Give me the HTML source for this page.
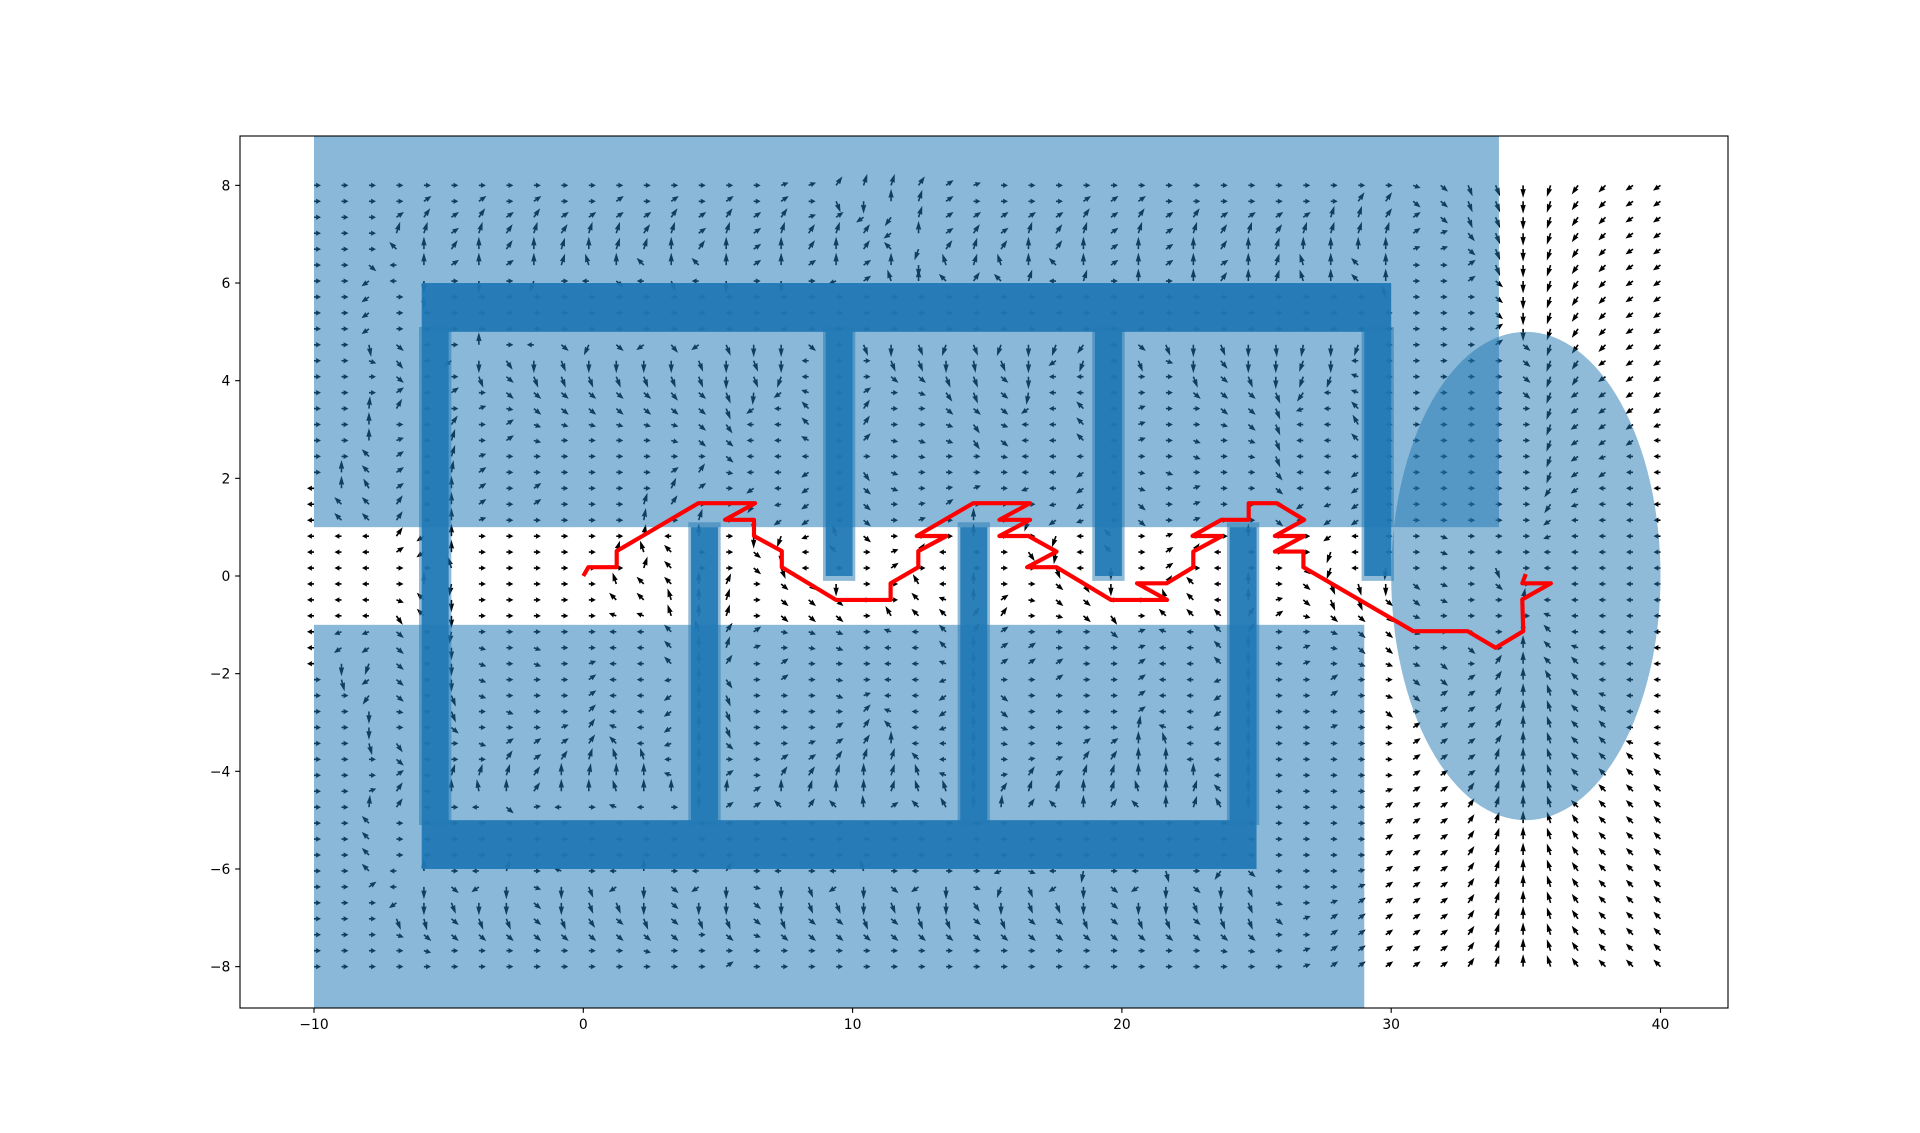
<!DOCTYPE html>
<html lang="en">
<head>
<meta charset="utf-8">
<title>Potential field path chart</title>
<style>
html,body{margin:0;padding:0;background:#fff}
svg{display:block}
text{font-family:"DejaVu Sans","Liberation Sans",sans-serif;font-size:13.89px;fill:#000}
</style>
</head>
<body>
<svg id="chart" xmlns="http://www.w3.org/2000/svg" width="1920" height="1133" viewBox="0 0 1920 1133">
<defs><clipPath id="axes-clip"><rect x="240" y="136" width="1488" height="872"/></clipPath></defs>
</svg>
<script>
const xTicks = [-10, 0, 10, 20, 30, 40];
const yTicks = [-8, -6, -4, -2, 0, 2, 4, 6, 8];
const fieldXStart = -10;
const fieldXEnd = 40;
const fieldYTop = 8;
const fieldYBottom = -8;
const pathX = [0,0.19,1.24,1.24,4.27,6.38,5.26,6.34,6.34,7.37,7.37,9.38,11.41,11.41,12.44,12.44,13.49,12.38,14.48,16.59,15.45,16.59,15.45,16.53,17.57,16.48,17.57,19.6,21.68,20.56,21.66,22.65,22.65,23.72,22.62,23.69,24.71,24.71,25.75,26.77,25.68,26.77,25.68,26.74,26.74,30.82,32.84,33.88,34.9,34.87,35.93,34.87,35.0];
const pathY = [0,0.18,0.18,0.51,1.49,1.49,1.15,1.15,0.82,0.51,0.18,-0.49,-0.49,-0.15,0.18,0.51,0.82,0.82,1.49,1.49,1.15,1.15,0.82,0.82,0.5,0.18,0.18,-0.49,-0.49,-0.15,-0.15,0.18,0.5,0.82,0.82,1.15,1.15,1.49,1.49,1.15,0.82,0.82,0.5,0.5,0.18,-1.13,-1.13,-1.47,-1.13,-0.48,-0.15,-0.15,0.04];
const regionX0 = [-10, -10];
const regionX1 = [34, 29];
const regionY0 = [1, -9.2];
const regionY1 = [9.2, -1];
const ellipseCenter = [35, 0];
const ellipseRadius = [5, 5];
const wallX0 = [-6, 4, 14, 24, 9, 19, 29];
const wallX1 = [-5, 5, 15, 25, 10, 20, 30];
const wallY0 = [-5, -5, -5, -5, 0, 0, 0];
const wallY1 = [5, 1, 1, 1, 5, 5, 5];
const wallPadding = 0.1;
const barX0 = [-6, -6];
const barX1 = [30, 25];
const barY0 = [5, -6];
const barY1 = [6, -5];
const arrowAngleRows = [
[0,0,0,0,0,0,0,0,0,0,0,0,0,0,0,0,0,20,20,55,72,72,55,35,20,0,0,0,0,0,0,0,0,0,0,0,0,0,0,0,-20,-40,-68,-68,-90,-108,-125,-135,-145,-145],
[0,0,0,0,35,0,35,0,35,0,0,35,0,35,0,35,0,35,0,-68,-90,90,72,35,0,0,0,0,35,35,35,0,0,0,0,0,0,0,55,55,-40,-40,-68,-68,-90,-108,-125,-135,-145,-145],
[0,0,0,35,55,35,55,35,55,35,35,35,35,55,35,55,35,55,20,35,-145,-125,72,35,35,35,35,35,55,35,55,35,55,35,35,35,35,72,72,55,35,-40,-68,-68,-90,-108,-125,-135,-145,-145],
[0,0,0,72,72,35,72,55,72,55,72,72,55,72,35,72,35,72,55,72,55,-145,90,35,55,35,72,55,72,35,72,35,72,55,72,55,72,72,72,72,35,20,-50,-68,-90,-108,-125,-135,-145,-145],
[0,0,0,135,90,55,90,55,90,72,90,72,72,90,55,90,35,90,55,90,55,135,-110,55,72,55,90,55,90,35,90,35,90,55,90,72,90,90,90,90,20,20,-40,-68,-90,-108,-125,-135,-145,-145],
[0,0,-40,180,90,35,90,35,90,72,108,90,135,90,135,90,35,90,35,90,35,90,-90,108,72,108,90,135,90,35,90,35,90,35,90,72,108,90,135,90,0,0,35,-68,-90,-108,-125,-135,-145,-145],
[0,0,-145,180,-90,0,-90,0,-110,0,180,-40,180,-68,180,-90,0,-90,0,-160,35,108,90,135,55,135,72,180,72,0,90,0,90,55,90,72,108,90,135,90,0,0,35,-40,-90,-108,-125,-135,-145,-145],
[0,0,-145,0,-90,0,0,0,0,0,0,0,0,0,0,0,0,0,0,0,0,0,0,0,0,0,0,0,0,0,0,0,0,0,0,0,0,0,0,108,0,0,0,-40,-90,-108,-125,-135,-145,-145],
[0,0,-145,0,0,0,0,0,0,0,0,0,0,0,0,0,0,0,0,0,0,0,0,0,0,0,0,0,0,0,0,0,0,0,0,0,0,0,0,0,0,0,0,-40,-90,-108,-125,-135,-145,-145],
[0,0,-145,0,0,0,0,0,0,0,0,0,0,0,0,0,0,0,0,0,0,0,0,0,0,0,0,0,0,0,0,0,0,0,0,0,0,0,0,0,0,0,0,35,-90,-108,-125,-135,-145,-145],
[0,0,-80,-40,0,0,90,0,180,-40,-115,-40,-145,-50,-145,-68,-90,-90,-40,0,-68,-90,-68,-110,-68,-110,-90,-110,-125,0,-40,-68,-90,-68,-90,-85,-100,-90,-110,0,0,0,0,35,-40,-108,-125,-135,-145,-145],
[0,0,-20,-50,0,-145,-90,-55,-90,-68,-90,-90,-90,-90,-68,-90,-68,-90,180,0,0,-68,-68,-90,-80,-68,-90,-145,-110,0,-68,-20,-90,-50,-90,-90,-110,-90,180,0,0,0,0,0,-40,-110,-125,-145,-145,-145],
[0,0,0,-40,0,0,-68,-40,-68,-68,-68,-68,-68,-68,-68,-90,-68,-110,180,0,0,-40,-40,-68,-68,-40,-90,180,180,0,0,0,-68,-40,-68,-90,-110,-110,160,0,0,0,0,0,-40,-110,-125,-145,-145,-145],
[0,0,0,35,0,35,0,-40,-40,-40,-40,-40,-40,-50,-40,-68,-95,-145,160,0,35,0,-20,-55,-68,-40,-100,180,180,0,0,0,-40,-40,-40,-68,-125,180,160,0,0,0,0,0,-40,-110,-145,-145,-145,-145],
[0,0,85,60,0,0,20,-10,-40,-40,-40,-40,-40,-40,-40,-68,-145,180,135,0,55,0,0,-40,-40,-40,-145,180,135,0,20,0,0,-40,-40,-68,-160,180,135,0,0,0,0,0,0,-110,-145,-145,-145,-145],
[0,0,90,0,0,55,0,35,-20,-15,-15,-15,-15,-15,-40,-55,180,180,135,0,55,0,0,-20,-55,-20,180,180,135,0,20,0,0,-15,-40,-68,180,180,120,0,0,0,0,0,0,-110,-145,-145,-145,-160],
[0,0,90,20,0,72,0,35,-15,0,0,0,0,-15,-40,-40,180,180,150,0,45,-10,-20,-20,-55,-40,180,180,135,0,20,0,-20,0,-20,-68,180,180,135,0,0,0,0,0,0,-110,-145,-145,-145,180],
[0,0,135,35,0,72,20,0,0,0,0,0,0,0,0,-40,180,180,180,0,0,0,-10,0,0,-10,180,180,180,0,0,0,-20,0,-10,-68,180,180,180,0,0,0,0,0,0,-110,-145,-160,180,180],
[0,90,135,35,0,80,35,0,0,0,0,0,0,35,55,-10,180,180,-145,0,-55,-20,0,0,0,0,180,180,-145,0,-10,-20,0,0,0,-50,180,180,-145,0,0,0,0,0,0,-110,-145,-145,180,180],
[180,90,120,35,0,90,35,0,35,0,0,0,0,65,35,0,-145,180,-145,0,-40,-20,0,10,20,0,-160,180,-145,0,-20,0,20,0,0,-40,180,180,-145,0,0,0,0,0,0,-125,-145,180,180,180],
[180,135,135,55,0,90,35,0,35,0,0,0,72,55,0,0,-125,-170,-145,0,-40,0,10,35,0,0,0,-170,-145,0,-40,0,20,0,0,0,-145,-160,-145,0,0,0,0,0,0,-125,-160,180,180,180],
[180,135,135,55,0,90,20,0,0,0,0,0,80,0,72,0,-90,-145,-145,0,-40,0,20,0,90,0,-110,-145,-160,0,-40,0,20,0,0,-40,180,-145,-145,0,0,0,0,0,0,-145,180,180,180,180],
[180,180,180,55,-145,90,0,0,0,0,0,0,80,180,90,0,-90,-110,-160,108,-40,0,0,0,90,0,0,-110,180,135,0,20,0,0,90,0,0,-145,180,0,0,-20,0,0,0,-160,180,180,180,180],
[180,180,180,35,-145,90,0,0,0,0,0,72,108,135,0,0,-40,-90,180,135,0,20,55,180,0,0,-55,-100,180,135,0,35,55,180,0,0,0,-110,180,0,0,-20,0,0,0,180,180,180,180,180],
[180,180,180,0,0,108,0,0,0,0,0,0,72,135,0,0,-40,-68,180,0,0,35,0,180,0,0,0,-68,180,-90,0,35,0,180,0,0,-40,-110,180,-95,0,0,0,-68,0,180,180,180,180,180],
[180,180,180,0,90,-100,0,0,0,0,0,108,135,135,90,65,0,-40,-40,-90,0,0,120,180,90,0,0,-40,-55,-90,0,55,135,180,90,0,-40,-68,-75,-90,-40,-20,0,-40,0,180,180,180,180,180],
[180,180,180,-20,135,-90,0,0,0,0,0,135,135,108,90,72,0,-40,-40,-40,0,0,135,160,90,35,-10,-40,-40,0,0,108,135,180,90,15,-40,-68,-68,-40,-40,-20,0,0,80,180,180,180,180,180],
[180,180,180,-55,135,-90,0,0,0,0,0,160,160,108,90,72,0,-40,-40,-40,0,120,135,135,55,55,0,-15,-40,-55,0,135,135,135,55,35,-15,-40,-40,-40,-20,0,0,0,0,160,180,180,180,180],
[180,-160,-160,-40,0,-100,0,0,0,0,0,180,180,135,108,55,35,-10,-20,-20,0,160,180,135,55,35,0,0,0,-40,20,160,180,135,55,0,0,-20,-40,-40,-20,0,-20,0,90,135,180,180,180,180],
[180,-145,-145,-40,0,-90,-15,0,-20,0,0,180,180,135,90,72,20,0,-10,-20,0,180,180,135,90,35,35,0,0,0,20,180,180,135,90,0,20,-10,-40,-40,0,0,-40,0,90,135,160,180,180,180],
[180,-90,-110,-40,0,-90,-20,0,-20,0,20,180,180,135,90,55,0,35,0,0,0,180,180,160,90,35,35,35,0,0,35,180,180,135,90,0,20,0,-20,-20,-20,-40,0,55,90,135,135,180,180,180],
[0,-75,-145,-40,0,-90,-20,0,0,0,35,180,180,-170,90,-55,0,35,0,-10,0,180,180,-160,90,0,0,35,0,0,35,180,180,-160,90,0,0,35,0,0,-40,-40,35,55,90,120,135,180,180,180],
[0,0,-125,-40,0,-68,-20,0,0,0,35,180,180,-145,90,-68,0,0,0,-20,20,180,180,-145,90,-40,0,0,0,0,35,180,180,-145,90,0,0,35,0,-20,-40,35,35,55,90,108,135,160,180,180],
[0,0,-90,-10,0,-68,0,-20,0,0,45,180,180,-145,90,-68,0,0,0,0,45,160,180,-145,90,-40,0,0,0,0,35,180,180,-145,90,0,0,0,0,-40,0,35,35,55,90,108,135,135,180,180],
[0,0,-90,0,0,-40,0,0,0,20,55,160,180,-145,90,-68,0,0,0,35,55,135,180,-160,90,-20,0,0,0,0,80,160,180,-160,90,0,0,20,0,0,35,35,35,55,90,108,135,135,180,180],
[0,0,-75,-55,0,0,-20,35,35,35,55,135,180,-160,90,-40,0,0,20,35,55,90,180,180,90,-10,0,0,35,35,90,108,180,180,90,0,0,0,0,0,35,35,35,55,90,108,135,135,160,180],
[0,0,0,-40,0,0,0,55,35,55,72,108,108,180,90,0,0,35,35,55,72,72,135,180,90,0,10,20,55,55,90,90,180,180,90,0,0,0,0,0,35,35,35,72,90,108,135,135,135,135],
[0,0,0,35,0,72,72,72,55,90,80,90,90,160,90,35,0,55,55,72,90,72,108,160,90,10,55,35,72,72,90,90,90,180,90,0,0,0,0,0,35,35,35,72,90,108,135,135,135,135],
[0,0,20,55,0,90,100,90,55,90,90,108,90,90,90,85,35,90,72,90,90,72,108,108,90,55,72,72,90,72,108,90,72,135,90,0,0,0,0,20,35,35,55,72,90,108,135,135,135,135],
[0,0,85,55,0,0,180,-40,10,180,0,160,180,0,90,35,35,135,55,135,95,35,135,120,90,85,55,135,90,55,135,90,72,120,90,0,0,0,0,35,35,35,55,72,90,108,135,135,135,135],
[0,0,135,0,0,0,0,0,0,0,0,0,0,0,0,0,0,0,0,0,0,0,0,0,0,0,0,0,0,0,0,0,0,0,0,0,0,0,0,35,35,35,55,72,90,108,125,135,135,135],
[0,0,135,0,0,0,0,0,0,0,0,0,0,0,0,0,0,0,0,0,0,0,0,0,0,0,0,0,0,0,0,0,0,0,0,0,0,0,0,35,35,35,55,72,90,108,125,135,135,135],
[0,0,135,0,0,0,0,0,0,0,0,0,0,0,0,0,0,0,0,0,0,0,0,0,0,0,0,0,0,0,0,0,0,0,0,0,0,0,0,35,35,35,55,72,90,108,125,135,135,135],
[0,0,135,180,90,0,180,72,0,160,0,180,90,0,180,55,0,180,0,180,108,0,180,0,0,-160,-20,180,-100,0,180,-75,0,-125,-40,0,0,0,10,35,35,35,55,72,90,108,125,135,135,135],
[0,0,35,180,-90,-40,-145,-90,-20,-90,-68,-145,-90,-40,-145,-90,-15,-90,-68,-145,-90,-40,-145,-90,-20,-110,-68,-145,-90,-40,-145,-90,-40,-90,-68,0,0,0,20,35,35,35,55,72,90,108,125,135,135,135],
[0,0,0,-145,-90,-68,-90,-90,-40,-90,-68,-68,-90,-40,-90,-90,-40,-90,-68,-68,-90,-68,-90,-90,-55,-90,-68,-68,-90,-40,-90,-90,-68,-90,-68,-15,0,20,35,35,35,35,55,72,90,108,125,135,135,135],
[0,0,0,-68,-75,-40,-68,-68,-40,-68,-55,-40,-68,-40,-68,-68,-40,-68,-40,-40,-68,-40,-68,-68,-40,-68,-40,-40,-68,-40,-68,-68,-40,-68,-68,-40,20,35,35,35,35,35,55,72,90,108,125,135,135,135],
[0,0,0,-20,-40,-40,-40,-40,-40,-40,-40,-40,-40,-40,0,-40,-20,-40,-40,-40,-40,-40,-40,-40,-40,-40,-40,-40,-40,-40,-40,-40,-40,-40,-40,0,0,35,35,35,35,35,55,72,90,108,125,135,135,135],
[0,0,0,0,-15,0,0,0,0,0,0,0,-15,0,0,0,0,0,0,0,0,0,0,0,0,0,0,0,0,0,0,0,0,-10,-10,0,20,35,35,35,35,35,55,72,90,108,125,135,135,135],
[0,0,0,0,0,0,0,0,0,0,0,0,0,0,0,35,0,0,0,0,0,0,0,0,0,0,0,0,0,0,0,0,0,0,0,0,20,35,35,35,35,35,55,72,90,108,125,135,135,135]
];

const SVG_NS = 'http://www.w3.org/2000/svg';
const chart = document.getElementById('chart');
const axLeft = 240, axRight = 1728, axTop = 136, axBottom = 1008;
function xPos(v) { return 583.3 + v * 26.93; }
function yPos(v) { return 576 - v * 48.83; }
function make(tag, attrs, parent) {
  const el = document.createElementNS(SVG_NS, tag);
  for (const k in attrs) el.setAttribute(k, attrs[k]);
  parent.appendChild(el);
  return el;
}
function dataRect(x0, x1, y0, y1, alpha, parent) {
  return make('rect', {
    x: xPos(x0), y: yPos(y1),
    width: xPos(x1) - xPos(x0), height: yPos(y0) - yPos(y1),
    fill: '#1f77b4', 'fill-opacity': alpha
  }, parent);
}

const plot = make('g', {'clip-path': 'url(#axes-clip)'}, chart);



const field = make('g', {fill: '#000'}, plot);


const rowCount = arrowAngleRows.length;
arrowAngleRows.forEach(function (row, j) {
  const yVal = fieldYTop + (fieldYBottom - fieldYTop) * j / (rowCount - 1);
  row.forEach(function (deg, i) {
    const xVal = fieldXStart + (fieldXEnd - fieldXStart) * i / (row.length - 1);
    const rad = deg * Math.PI / 180;
    const len = Math.hypot(7 * Math.cos(rad), 12.5 * Math.sin(rad));
    const p = make('polygon', {
      points: '0,-0.8 ' + (0.32 * len) + ',-0.8 ' + (0.28 * len) + ',-2.7 ' + len + ',0 ' + (0.28 * len) + ',2.7 ' + (0.32 * len) + ',0.8 0,0.8',
      transform: 'translate(' + xPos(xVal).toFixed(2) + ' ' + yPos(yVal).toFixed(2) + ') rotate(' + (-deg) + ')'
    }, field);
    
    
  });
});

const patches = make('g', {}, plot);


regionX0.forEach(function (x0, i) {
  const r = dataRect(x0, regionX1[i], regionY0[i], regionY1[i], 0.52, patches);
  
  
});
const ell = make('ellipse', {
  cx: xPos(ellipseCenter[0]), cy: yPos(ellipseCenter[1]),
  rx: ellipseRadius[0] * 26.93, ry: ellipseRadius[1] * 48.83,
  fill: '#1f77b4', 'fill-opacity': 0.5
}, patches);


wallX0.forEach(function (x0, i) {
  const halo = dataRect(x0 - wallPadding, wallX1[i] + wallPadding, wallY0[i] - wallPadding, wallY1[i] + wallPadding, 0.5, patches);
  
  
  const core = dataRect(x0, wallX1[i], wallY0[i], wallY1[i], 0.88, patches);
  
  
});
barX0.forEach(function (x0, i) {
  const b = dataRect(x0, barX1[i], barY0[i], barY1[i], 0.93, patches);
  
  
});

const route = make('polyline', {
  points: pathX.map(function (x, i) { return xPos(x).toFixed(1) + ',' + yPos(pathY[i]).toFixed(1); }).join(' '),
  fill: 'none', stroke: '#ff0000', 'stroke-width': 4.17, 'stroke-linejoin': 'round', 'stroke-linecap': 'butt'
}, plot);



const frame = make('rect', {x: axLeft, y: axTop, width: axRight - axLeft, height: axBottom - axTop, fill: 'none', stroke: '#000', 'stroke-width': 1.11}, chart);



const xAxis = make('g', {}, chart);


xTicks.forEach(function (v) {
  const x = xPos(v);
  const t = make('line', {x1: x, x2: x, y1: axBottom, y2: axBottom + 4.86, stroke: '#000', 'stroke-width': 1.11}, xAxis);
  
  
  const l = make('text', {x: x, y: 1029, 'text-anchor': 'middle'}, xAxis);
  l.textContent = String(v).replace('-', '\u2212');
  
  
});

const yAxis = make('g', {}, chart);


yTicks.forEach(function (v) {
  const y = yPos(v);
  const t = make('line', {x1: axLeft - 4.86, x2: axLeft, y1: y, y2: y, stroke: '#000', 'stroke-width': 1.11}, yAxis);
  
  
  const l = make('text', {x: 230.3, y: y + 5.05, 'text-anchor': 'end'}, yAxis);
  l.textContent = String(v).replace('-', '\u2212');
  
  
});
</script>
</body>
</html>
